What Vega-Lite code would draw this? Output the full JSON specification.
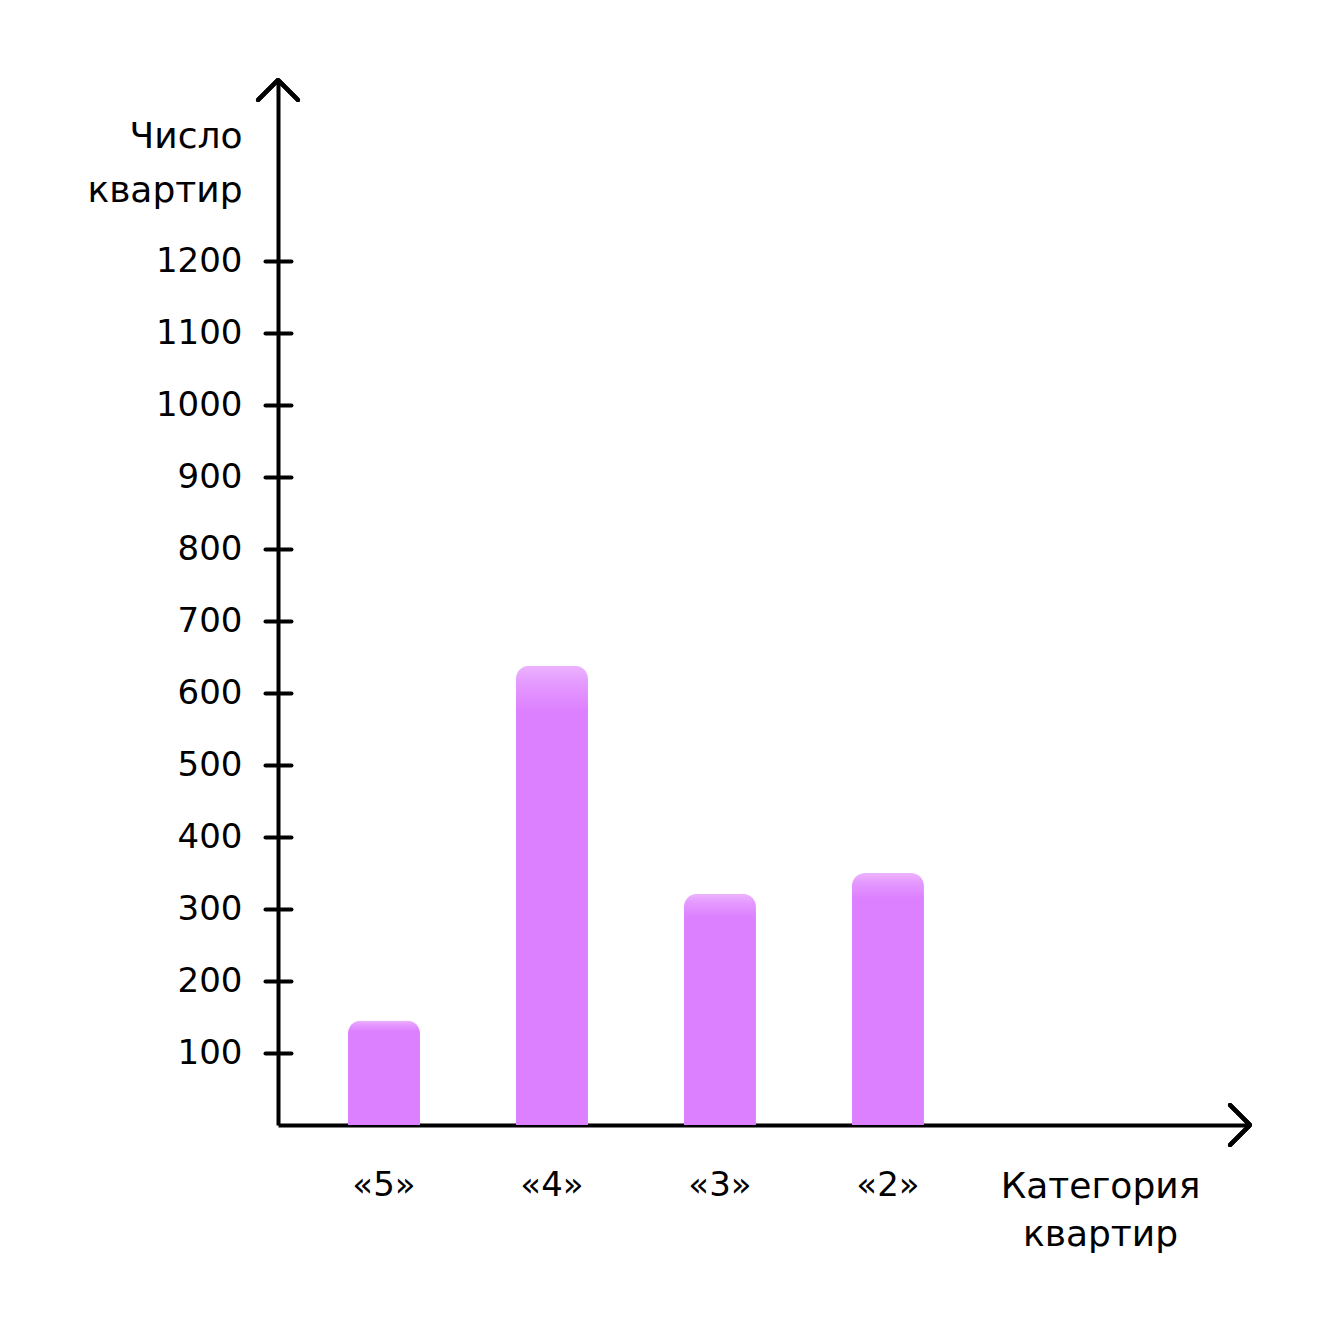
{
  "$schema": "https://vega.github.io/schema/vega-lite/v6.json",
  "width": 972,
  "height": 1045,
  "autosize": {"type": "none"},
  "padding": {"left": 278, "top": 80, "right": 70, "bottom": 195},
  "background": "white",
  "config": {
    "view": {"stroke": null},
    "axis": {"grid": false, "labelFont": "DejaVu Sans", "titleFont": "DejaVu Sans", "labelColor": "#000000", "titleColor": "#000000", "titleFontWeight": "normal"}
  },
  "data": {"values": [
    {"category": "«5»", "count": 145},
    {"category": "«4»", "count": 638},
    {"category": "«3»", "count": 321},
    {"category": "«2»", "count": 350}
  ]},
  "resolve": {"axis": {"y": "independent"}},
  "layer": [
    {
      "mark": {
        "type": "bar",
        "width": {"band": 0.4286},
        "cornerRadiusTopLeft": 13,
        "cornerRadiusTopRight": 13,
        "color": {"gradient": "linear", "x1": 0, "y1": 0, "x2": 0, "y2": 1,
          "stops": [{"offset": 0, "color": "#EDB4FF"}, {"offset": 0.035, "color": "#E59BFF"}, {"offset": 0.1, "color": "#DD80FF"}, {"offset": 1, "color": "#DD80FF"}]}
      },
      "encoding": {
        "x": {
          "field": "category", "type": "nominal", "sort": null,
          "scale": {"type": "band", "paddingInner": 0, "paddingOuter": 0.893, "align": 0.0733},
          "axis": {
            "title": ["Категория", "квартир"],
            "titleFontSize": 36, "titleLineHeight": 48, "titleAlign": "center", "titleBaseline": "alphabetic",
            "titleAnchor": null, "titleX": 822, "titleY": 72,
            "labelAngle": 0, "labelFontSize": 34, "labelPadding": 43, "ticks": false, "tickSize": 0,
            "domain": true, "domainColor": "#000000", "domainWidth": 4
          }
        },
        "y": {
          "field": "count", "type": "quantitative",
          "scale": {"domain": [0, 1451.39], "nice": false, "zero": true},
          "axis": {
            "orient": "left",
            "values": [100, 200, 300, 400, 500, 600, 700, 800, 900, 1000, 1100, 1200], "format": "d",
            "offset": -13, "domain": false, "ticks": true, "tickSize": 26, "tickWidth": 4, "tickColor": "#000000", "tickCap": "round",
            "labelFontSize": 34, "labelPadding": 23, "labelBaseline": "middle",
            "title": ["Число", "квартир"], "titleFontSize": 36, "titleLineHeight": 54, "titleAngle": 0,
            "titleAlign": "right", "titleBaseline": "alphabetic", "titleAnchor": null, "titleX": -49, "titleY": 67
          }
        }
      }
    },
    {
      "mark": {"type": "point", "shape": "M-1,1L0,0L1,1", "filled": false, "stroke": "#000000", "strokeWidth": 4, "strokeCap": "round", "strokeJoin": "round", "size": 1600, "opacity": 1},
      "encoding": {
        "x": {"value": 0},
        "y": {
          "datum": 1451.39, "type": "quantitative",
          "scale": {"domain": [0, 1451.39], "nice": false, "zero": true},
          "axis": {"orient": "left", "offset": 0, "domain": true, "domainColor": "#000000", "domainWidth": 4, "ticks": false, "labels": false, "title": null}
        }
      }
    },
    {
      "mark": {"type": "point", "shape": "M-1,-1L0,0L-1,1", "filled": false, "stroke": "#000000", "strokeWidth": 4, "strokeCap": "round", "strokeJoin": "round", "size": 1600, "opacity": 1},
      "encoding": {
        "x": {"value": {"expr": "width"}},
        "y": {
          "datum": 0, "type": "quantitative",
          "scale": {"domain": [0, 1451.39], "nice": false, "zero": true},
          "axis": null
        }
      }
    }
  ]
}
